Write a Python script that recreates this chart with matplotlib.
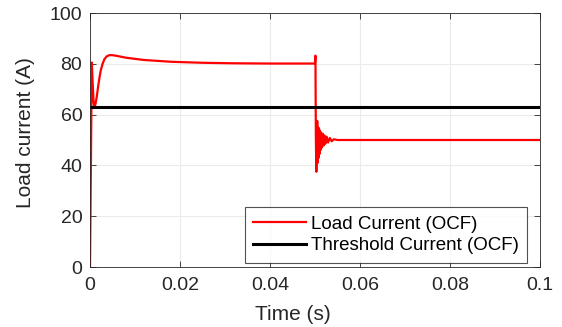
import matplotlib
matplotlib.use("Agg")
import matplotlib.pyplot as plt

plt.rcParams['font.family'] = ['Liberation Sans', 'DejaVu Sans']

# Load current (OCF): time [s], current [A]
t_load = [0.0, 0.0004, 0.0006, 0.0008, 0.001, 0.0012, 0.0015, 0.0018, 0.0021,
          0.0024, 0.0028, 0.0032, 0.0037, 0.0043, 0.005,
          0.006, 0.008, 0.012, 0.018, 0.025, 0.032, 0.04, 0.0498, 0.05, 0.0501,
          0.05015, 0.0502, 0.0503, 0.0504, 0.0505, 0.0506, 0.0507, 0.0508,
          0.0509, 0.0510, 0.0511, 0.0512, 0.0513, 0.0515, 0.0517, 0.0519,
          0.0521, 0.0523, 0.0526, 0.0529, 0.0533, 0.0537, 0.0542, 0.055, 0.1]
i_load = [0.0, 80.5, 72.0, 65.0, 63.3, 64.0, 67.0, 71.0, 74.5,
          77.5, 80.0, 81.8, 82.9, 83.4, 83.4,
          83.1, 82.4, 81.5, 80.8, 80.4, 80.2, 80.1, 80.1, 80.3, 83.2,
          65.0, 50.0, 37.5, 52.0, 57.5, 41.0, 55.0, 43.0,
          54.5, 44.5, 53.5, 46.0, 53.0, 47.0, 52.5, 47.8,
          51.8, 48.5, 51.3, 49.0, 50.8, 49.5, 50.3, 50.0, 50.0]

# Threshold current (OCF)
t_thr = [0.0, 0.1]
i_thr = [63.0, 63.0]

x_ticks = [0, 0.02, 0.04, 0.06, 0.08, 0.1]
x_labels = ['0', '0.02', '0.04', '0.06', '0.08', '0.1']
y_ticks = [0, 20, 40, 60, 80, 100]

fig = plt.figure(figsize=(5.62, 3.27), dpi=100)
ax = fig.add_axes([90 / 562, (327 - 267) / 327, 450 / 562, 254 / 327])

ax.plot(t_load, i_load, color='#ff0000', lw=1.6, label='Load Current (OCF)')
ax.plot(t_thr, i_thr, color='black', lw=2.2, label='Threshold Current (OCF)')

ax.set_xlim(0, 0.1)
ax.set_ylim(0, 100)
ax.set_xticks(x_ticks)
ax.set_xticklabels(x_labels)
ax.set_yticks(y_ticks)
ax.grid(True, color='#ebebeb', lw=0.8)
ax.set_axisbelow(True)
ax.tick_params(labelsize=14, colors='#262626', direction='in', length=4,
               top=True, right=True, width=0.6)
ax.tick_params(axis='x', pad=7)
ax.tick_params(axis='y', pad=5.5)
for s in ax.spines.values():
    s.set_color('#262626')
    s.set_linewidth(0.6)

ax.set_xlabel('Time (s)', fontsize=15, color='#262626')
ax.xaxis.set_label_coords(0.451, -0.15)
ax.set_ylabel('Load current (A)', fontsize=15, color='#262626')
ax.yaxis.set_label_coords(-0.122, 0.531)

leg = ax.legend(loc='lower right', bbox_to_anchor=(0.971, 0.016),
                borderaxespad=0, fontsize=13.5, frameon=True, fancybox=False,
                edgecolor='#262626', handlelength=2.8, handletextpad=0.27,
                borderpad=0.45, labelspacing=0.25)
leg.get_frame().set_linewidth(0.8)

fig.savefig('out.png', dpi=100)
